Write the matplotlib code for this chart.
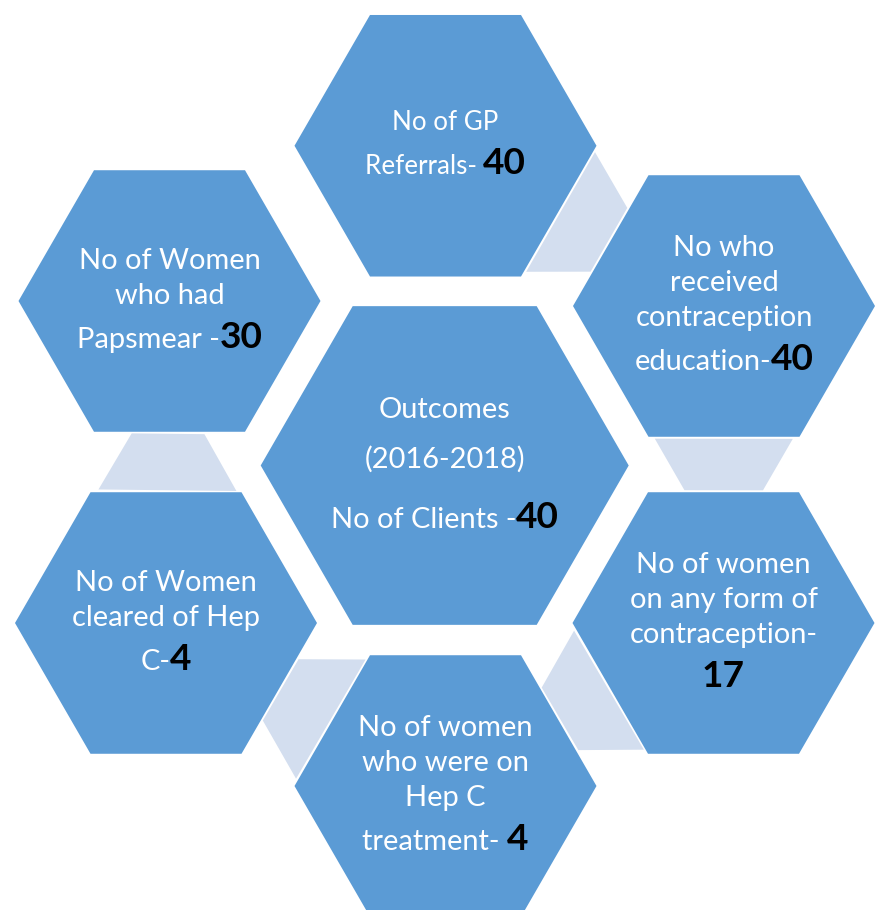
import matplotlib
matplotlib.use("Agg")
import matplotlib.pyplot as plt
from matplotlib.patches import Polygon
import numpy as np

# ---------------- data ----------------
center_lines = ["Outcomes", "(2016-2018)", "No of Clients -"]
center_value = 40

outer_lines = [
    ["No of GP", "Referrals- "],
    ["No who", "received", "contraception", "education-"],
    ["No of women", "on any form of", "contraception-", ""],
    ["No of women", "who were on", "Hep C", "treatment- "],
    ["No of Women", "cleared of Hep", "C-"],
    ["No of Women", "who had", "Papsmear -"],
]
outer_values = [40, 40, 17, 4, 4, 30]

# ---------------- layout ----------------
W, H, DPI = 883, 910, 100
HEX_BLUE = "#5B9BD5"
CONN = "#D3DEEF"

outer_centers = [(445.5, 145.75), (724, 306), (723.5, 623), (445.5, 786),
                 (166, 623), (169.5, 301)]
outer_R = 151
center_xy = (444.7, 465.5)
center_R = 184
connector_pairs = [(0, 1), (1, 2), (2, 3), (3, 4), (4, 5)]
conn_width = 138
conn_inset = 2.0

reg_px = [26, 29, 29, 29, 29, 29]
bold_px = 37
center_reg_px = 29

fig = plt.figure(figsize=(W / DPI, H / DPI), dpi=DPI)
ax = fig.add_axes([0, 0, 1, 1])
ax.set_xlim(0, W)
ax.set_ylim(H, 0)
ax.axis("off")


def hexagon(cx, cy, R):
    ang = np.radians(np.arange(0, 360, 60))
    return np.column_stack([cx + R * np.cos(ang), cy + R * np.sin(ang)])


for (cx, cy) in outer_centers:
    ax.add_patch(Polygon(hexagon(cx, cy, outer_R), closed=True, fc=HEX_BLUE, ec="none"))
ax.add_patch(Polygon(hexagon(*center_xy, center_R), closed=True, fc=HEX_BLUE, ec="none"))

apo = outer_R * np.sqrt(3) / 2
t30 = np.tan(np.radians(30))
for a, b in connector_pairs:
    p = np.array(outer_centers[a], float)
    q = np.array(outer_centers[b], float)
    d = q - p
    L = np.hypot(*d)
    u = d / L
    v = np.array([-u[1], u[0]])
    h = L - 2 * apo - 2 * conn_inset
    m = (p + q) / 2
    hw = conn_width / 2
    hn = hw - h * t30
    pts = [m - h / 2 * u + hw * v, m + h / 2 * u + hn * v,
           m + h / 2 * u - hn * v, m - h / 2 * u - hw * v]
    ax.add_patch(Polygon(pts, closed=True, fc=CONN, ec="none"))

renderer = fig.canvas.get_renderer()
FONT = "Lato"


def px2pt(px):
    return px * 72.0 / DPI


def measure(text, bold, size):
    kw = dict(fontsize=px2pt(size), fontfamily=FONT,
              fontweight="bold" if bold else "normal")
    t1 = ax.text(0, 0, "|" + text + "|", **kw)
    t2 = ax.text(0, 0, "||", **kw)
    w = t1.get_window_extent(renderer).width - t2.get_window_extent(renderer).width
    t1.remove()
    t2.remove()
    return w


def draw_block(lines, cx, cy, extra=0.0, lead=1.2):
    # lines: list of list of (text, bold, size)
    baselines = []
    b = 0.0
    for i, runs in enumerate(lines):
        ms = max(s for _, _, s in runs)
        if i > 0:
            b += lead * ms + extra
        baselines.append(b)
    ms0 = max(s for _, _, s in lines[0])
    top = baselines[0] - 0.72 * ms0
    bottom = baselines[-1]
    off = cy - (top + bottom) / 2
    for runs, bl in zip(lines, baselines):
        widths = [measure(t, bo, s) for t, bo, s in runs]
        x = cx - sum(widths) / 2
        for (t, bo, s), w in zip(runs, widths):
            if t:
                ax.text(x, bl + off, t, fontsize=px2pt(s), fontfamily=FONT,
                        fontweight="bold" if bo else "normal",
                        color="black" if bo else "white",
                        ha="left", va="baseline")
            x += w


for i, (cx, cy) in enumerate(outer_centers):
    labs = outer_lines[i]
    rs = reg_px[i]
    lines = [[(t, False, rs)] for t in labs[:-1]]
    last = []
    if labs[-1]:
        last.append((labs[-1], False, rs))
    last.append((str(outer_values[i]), True, bold_px))
    lines.append(last)
    draw_block(lines, cx, cy - 3)

clines = [[(t, False, center_reg_px)] for t in center_lines[:-1]]
clines.append([(center_lines[-1], False, center_reg_px), (str(center_value), True, bold_px)])
draw_block(clines, center_xy[0], center_xy[1] - 3, extra=15)

fig.savefig("out.png", dpi=DPI, facecolor="white")
